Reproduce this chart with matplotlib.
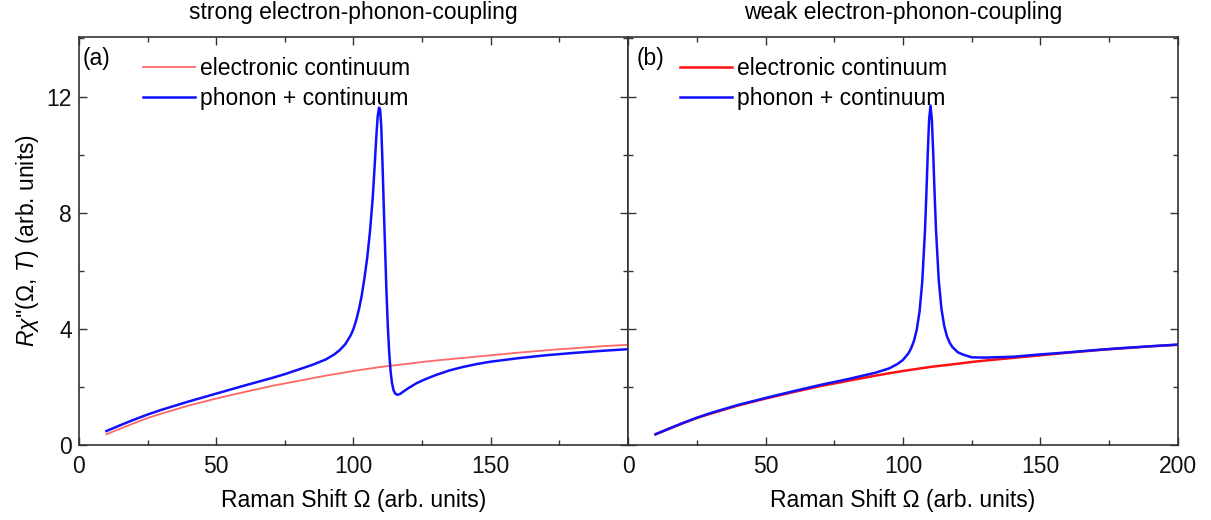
import matplotlib
matplotlib.use("Agg")
import matplotlib.pyplot as plt
from matplotlib.ticker import MultipleLocator, FixedLocator

plt.rcParams['font.family'] = ['Liberation Sans', 'DejaVu Sans']
plt.rcParams['mathtext.fontset'] = 'custom'
plt.rcParams['mathtext.rm'] = 'Liberation Sans'
plt.rcParams['mathtext.it'] = 'Liberation Sans:italic'

# electronic continuum (same in both panels)
cont_x = [10, 15, 20, 25, 30, 35, 40, 45, 50, 60, 70, 75, 80, 90, 100, 110,
          120, 125, 130, 140, 150, 160, 170, 175, 180, 190, 200]
cont_y = [0.37, 0.56, 0.75, 0.93, 1.08, 1.22, 1.36, 1.48, 1.60, 1.82, 2.03, 2.12,
          2.21, 2.39, 2.55, 2.69, 2.80, 2.86, 2.91, 3.00, 3.09, 3.18, 3.26, 3.30,
          3.33, 3.40, 3.45]

# strong coupling: asymmetric Fano line on top of the continuum
strong_x = [10, 15, 20, 25, 30, 40, 50, 60, 70, 75, 80, 85, 90, 93, 95, 97, 99,
            100, 101, 102, 103, 104, 105, 106, 107, 107.7, 108.3, 108.8, 109.3,
            109.7, 110.1, 110.5, 111.0, 111.5, 112.0, 112.5, 113.0, 113.5, 114.0,
            114.6, 115.3, 116, 117, 118, 120, 123, 126, 130, 135, 140, 145, 150,
            160, 170, 180, 190, 200]
strong_y = [0.48, 0.68, 0.87, 1.05, 1.21, 1.50, 1.77, 2.04, 2.30, 2.44, 2.60, 2.76,
            2.95, 3.12, 3.27, 3.47, 3.78, 4.00, 4.30, 4.68, 5.15, 5.75, 6.45, 7.35,
            8.50, 9.60, 10.60, 11.30, 11.62, 11.55, 11.00, 9.90, 8.30, 6.80, 5.30,
            4.10, 3.20, 2.55, 2.15, 1.88, 1.76, 1.73, 1.76, 1.83, 1.96, 2.13, 2.26,
            2.41, 2.57, 2.69, 2.79, 2.87, 2.99, 3.09, 3.17, 3.24, 3.30]

# weak coupling: nearly symmetric phonon line on the continuum
weak_x = [10, 15, 20, 25, 30, 40, 50, 60, 70, 75, 80, 85, 90, 95, 98, 100, 102,
          103, 104, 105, 106, 107, 108, 108.5, 109, 109.5, 110, 110.5, 111, 111.5,
          112, 113, 114, 115, 116, 117, 118, 120, 122, 125, 130, 140, 150, 160,
          170, 180, 190, 200]
weak_y = [0.37, 0.57, 0.76, 0.94, 1.10, 1.38, 1.62, 1.85, 2.07, 2.17, 2.27, 2.38,
          2.49, 2.64, 2.79, 2.93, 3.16, 3.34, 3.59, 3.97, 4.58, 5.61, 7.38, 8.63,
          10.02, 11.20, 11.69, 11.21, 10.04, 8.66, 7.43, 5.68, 4.68, 4.10, 3.74,
          3.52, 3.37, 3.19, 3.11, 3.02, 3.01, 3.04, 3.12, 3.19, 3.27, 3.34, 3.40,
          3.46]

titles = ["strong electron-phonon-coupling", "weak electron-phonon-coupling"]
panel_tags = ["(a)", "(b)"]
x_ticks = [[0, 50, 100, 150], [0, 50, 100, 150, 200]]
y_ticks = [0, 4, 8, 12]

FS = 16.5
fig = plt.figure(figsize=(12.11, 5.2), dpi=100)
left, right, mid = 0.0652, 0.9727, 0.5186
bottom, top = 0.1442, 0.9288
ax_a = fig.add_axes([left, bottom, mid - left, top - bottom])
ax_b = fig.add_axes([mid, bottom, right - mid, top - bottom], sharey=ax_a)
axes = [ax_a, ax_b]

ax_a.plot(cont_x, cont_y, color='#ff6666', lw=1.3, label='electronic continuum')
ax_a.plot(strong_x, strong_y, color='#1010ff', lw=1.8, label='phonon + continuum')
ax_b.plot(cont_x, cont_y, color='#ff1010', lw=1.8, label='electronic continuum')
ax_b.plot(weak_x, weak_y, color='#1010ff', lw=1.8, label='phonon + continuum')

tag_x = [0.007, 0.015]
legend_x = [0.116, 0.094]
edge = '#333333'
for i, ax in enumerate(axes):
    ax.set_xlim(0, 200)
    ax.set_ylim(0, 14.05)
    ax.xaxis.set_major_locator(FixedLocator(x_ticks[i]))
    ax.xaxis.set_minor_locator(MultipleLocator(25))
    ax.yaxis.set_major_locator(FixedLocator(y_ticks))
    ax.yaxis.set_minor_locator(MultipleLocator(2))
    ax.tick_params(which='both', direction='in', top=True, right=True,
                   color=edge, width=1.0, labelsize=FS, labelcolor='#111111')
    ax.tick_params(which='major', length=6)
    ax.tick_params(which='minor', length=3.5)
    ax.tick_params(axis='x', which='major', pad=7)
    ax.tick_params(axis='y', which='major', pad=5)
    for s in ax.spines.values():
        s.set_color(edge)
        s.set_linewidth(1.2)
    ax.set_xlabel('Raman Shift Ω (arb. units)', fontsize=FS, labelpad=8)
    ax.set_title(titles[i], fontsize=FS, pad=13)
    ax.text(tag_x[i], 0.975, panel_tags[i], transform=ax.transAxes, fontsize=FS,
            va='top', ha='left')
    ax.legend(loc='upper left', bbox_to_anchor=(legend_x[i], 0.95), frameon=False,
              fontsize=FS, handlelength=2.3, handletextpad=0.22, labelspacing=0.27,
              borderaxespad=0.0, borderpad=0.0)

ax_b.tick_params(axis='y', which='both', labelleft=False)
ax_a.set_ylabel("$R\\chi$''(Ω, $T$) (arb. units)", fontsize=FS, labelpad=4)

fig.savefig('out.png', dpi=100)
